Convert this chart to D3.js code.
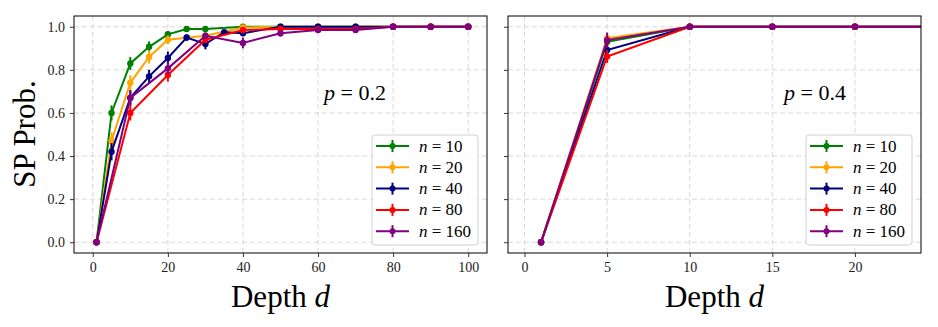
<!DOCTYPE html>
<html>
<head>
<meta charset="utf-8">
<script src="https://cdn.jsdelivr.net/npm/d3@7"></script>
<style>
  body { margin: 0; background: #fff; }
  svg { display: block; }
</style>
</head>
<body>
<div id="container"></div>
<script>
var width = 938;
var height = 327;

// series sizes n, shared by both panels
var nValues = ["10", "20", "40", "80", "160"];
var colors = ["green", "orange", "navy", "red", "purple"];

// ---- left panel (p = 0.2) ----
var leftX10 = [1, 5, 10, 15, 20, 25, 30, 40, 50, 60, 70, 80, 90, 100];
var leftY10 = [0, 0.60, 0.83, 0.907, 0.965, 0.99, 0.99, 1, 1, 1, 1, 1, 1, 1];
var leftE10 = [0, 0.035, 0.03, 0.025, 0.015, 0.008, 0.008, 0, 0, 0, 0, 0, 0, 0];

var leftX20 = [1, 5, 10, 15, 20, 30, 40, 50, 60, 70, 80, 90, 100];
var leftY20 = [0, 0.47, 0.74, 0.86, 0.94, 0.958, 0.997, 1, 1, 1, 1, 1, 1];
var leftE20 = [0, 0.04, 0.035, 0.03, 0.02, 0.015, 0.008, 0, 0, 0, 0, 0, 0];

var leftX40 = [1, 5, 10, 15, 20, 25, 30, 35, 40, 50, 60, 70, 80, 90, 100];
var leftY40 = [0, 0.42, 0.67, 0.77, 0.855, 0.95, 0.92, 0.975, 0.97, 1, 1, 1, 1, 1, 1];
var leftE40 = [0, 0.04, 0.035, 0.03, 0.03, 0.015, 0.025, 0.01, 0.01, 0, 0, 0, 0, 0, 0];

var leftX80 = [1, 10, 20, 30, 40, 50, 60, 70, 80, 90, 100];
var leftY80 = [0, 0.60, 0.776, 0.94, 0.985, 0.99, 0.99, 0.99, 1, 1, 1];
var leftE80 = [0, 0.035, 0.03, 0.015, 0.008, 0.005, 0.005, 0.005, 0, 0, 0];

var leftX160 = [1, 10, 20, 30, 40, 50, 60, 70, 80, 90, 100];
var leftY160 = [0, 0.67, 0.807, 0.958, 0.925, 0.97, 0.985, 0.985, 1, 1, 1];
var leftE160 = [0, 0.035, 0.03, 0.015, 0.025, 0.015, 0.01, 0.01, 0, 0, 0];

// ---- right panel (p = 0.4) ----
var rightX = [1, 5, 10, 15, 20, 25, 30];
var rightY10 = [0, 0.93, 1, 1, 1, 1, 1];
var rightY20 = [0, 0.947, 1, 1, 1, 1, 1];
var rightY40 = [0, 0.892, 1, 1, 1, 1, 1];
var rightY80 = [0, 0.862, 1, 1, 1, 1, 1];
var rightY160 = [0, 0.938, 1, 1, 1, 1, 1];
var rightE10 = [0, 0.025, 0, 0, 0, 0, 0];
var rightE20 = [0, 0.025, 0, 0, 0, 0, 0];
var rightE40 = [0, 0.03, 0, 0, 0, 0, 0];
var rightE80 = [0, 0.03, 0, 0, 0, 0, 0];
var rightE160 = [0, 0.035, 0, 0, 0, 0, 0];

var yTicks = [0, 0.2, 0.4, 0.6, 0.8, 1.0];
var leftXTicks = [0, 20, 40, 60, 80, 100];
var rightXTicks = [0, 5, 10, 15, 20];

function zipSeries(xs, ys, es) {
    return xs.map(function(x, i) { return {x: x, y: ys[i], e: es[i]}; });
}

var leftSeries = [
    zipSeries(leftX10, leftY10, leftE10),
    zipSeries(leftX20, leftY20, leftE20),
    zipSeries(leftX40, leftY40, leftE40),
    zipSeries(leftX80, leftY80, leftE80),
    zipSeries(leftX160, leftY160, leftE160)
];
var rightSeries = [
    zipSeries(rightX, rightY10, rightE10),
    zipSeries(rightX, rightY20, rightE20),
    zipSeries(rightX, rightY40, rightE40),
    zipSeries(rightX, rightY80, rightE80),
    zipSeries(rightX, rightY160, rightE160)
];

var serif = "'Liberation Serif', 'DejaVu Serif', serif";
var plotTop = 16, plotBottom = 253;

var svg = d3.select("#container")
    .append("svg")
    .attr("width", width)
    .attr("height", height);

var yScale = d3.scaleLinear()
    .domain([-0.05, 1.05])
    .range([plotBottom, plotTop]);

function drawPanel(id, left, right, xDomain, xTicks, series, showYLabels, pText, pX) {
    var xScale = d3.scaleLinear().domain(xDomain).range([left, right]);
    var g = svg.append("g");

    g.append("clipPath").attr("id", id)
        .append("rect")
        .attr("x", left).attr("y", plotTop)
        .attr("width", right - left).attr("height", plotBottom - plotTop);

    // grid
    g.selectAll(".vgrid").data(xTicks).enter().append("line")
        .attr("x1", function(d) { return xScale(d); })
        .attr("x2", function(d) { return xScale(d); })
        .attr("y1", plotTop).attr("y2", plotBottom)
        .attr("stroke", "#d8d8d8").attr("stroke-width", 1)
        .attr("stroke-dasharray", "5,3");
    g.selectAll(".hgrid").data(yTicks).enter().append("line")
        .attr("y1", function(d) { return yScale(d); })
        .attr("y2", function(d) { return yScale(d); })
        .attr("x1", left).attr("x2", right)
        .attr("stroke", "#d8d8d8").attr("stroke-width", 1)
        .attr("stroke-dasharray", "5,3");

    // series
    var plot = g.append("g").attr("clip-path", "url(#" + id + ")");
    var line = d3.line()
        .x(function(d) { return xScale(d.x); })
        .y(function(d) { return yScale(d.y); });

    series.forEach(function(s, i) {
        var sg = plot.append("g");
        sg.append("path")
            .datum(s)
            .attr("d", line)
            .attr("fill", "none")
            .attr("stroke", colors[i])
            .attr("stroke-width", 2);
        sg.selectAll(".err").data(s.filter(function(d) { return d.e > 0; })).enter().append("line")
            .attr("x1", function(d) { return xScale(d.x); })
            .attr("x2", function(d) { return xScale(d.x); })
            .attr("y1", function(d) { return yScale(Math.min(d.y + d.e, 1.0)); })
            .attr("y2", function(d) { return yScale(d.y - d.e); })
            .attr("stroke", colors[i])
            .attr("stroke-width", 2);
        sg.selectAll("circle").data(s).enter().append("circle")
            .attr("cx", function(d) { return xScale(d.x); })
            .attr("cy", function(d) { return yScale(d.y); })
            .attr("r", 3.2)
            .attr("fill", colors[i]);
    });

    // frame
    g.append("rect")
        .attr("x", left).attr("y", plotTop)
        .attr("width", right - left).attr("height", plotBottom - plotTop)
        .attr("fill", "none").attr("stroke", "#000").attr("stroke-width", 1);

    // axes
    var xAxis = d3.axisBottom(xScale).tickValues(xTicks).tickSize(4).tickPadding(5)
        .tickFormat(d3.format("d"));
    var xg = g.append("g")
        .attr("transform", "translate(0," + plotBottom + ")")
        .call(xAxis);
    xg.select(".domain").remove();

    var yAxis = d3.axisLeft(yScale).tickValues(yTicks).tickSize(4).tickPadding(5)
        .tickFormat(showYLabels ? d3.format(".1f") : "");
    var yg = g.append("g")
        .attr("transform", "translate(" + left + ",0)")
        .call(yAxis);
    yg.select(".domain").remove();

    [xg, yg].forEach(function(a) {
        a.selectAll("line").attr("stroke", "#333").attr("stroke-width", 1);
        a.selectAll("text")
            .attr("font-family", serif)
            .attr("font-size", "14px")
            .attr("fill", "#222");
    });

    // x label
    var xl = g.append("text")
        .attr("x", (left + right) / 2)
        .attr("y", 307)
        .attr("text-anchor", "middle")
        .attr("font-family", serif)
        .attr("font-size", "31px");
    xl.append("tspan").text("Depth ");
    xl.append("tspan").attr("font-style", "italic").text("d");

    // p annotation
    var pt = g.append("text")
        .attr("x", pX)
        .attr("y", 100)
        .attr("text-anchor", "middle")
        .attr("font-family", serif)
        .attr("font-size", "22px");
    pt.append("tspan").attr("font-style", "italic").text("p");
    pt.append("tspan").text(" = " + pText);

    // legend
    var lx = right - 115, ly = 135;
    var leg = g.append("g");
    leg.append("rect")
        .attr("x", lx).attr("y", ly)
        .attr("width", 106).attr("height", 110)
        .attr("rx", 3)
        .attr("fill", "#fff").attr("fill-opacity", 0.85)
        .attr("stroke", "#d0d0d0").attr("stroke-width", 1);
    nValues.forEach(function(n, i) {
        var cy = ly + 11 + i * 21.3;
        leg.append("line")
            .attr("x1", lx + 4).attr("x2", lx + 37)
            .attr("y1", cy).attr("y2", cy)
            .attr("stroke", colors[i]).attr("stroke-width", 2);
        leg.append("line")
            .attr("x1", lx + 20.5).attr("x2", lx + 20.5)
            .attr("y1", cy - 6).attr("y2", cy + 6)
            .attr("stroke", colors[i]).attr("stroke-width", 2);
        leg.append("circle")
            .attr("cx", lx + 20.5).attr("cy", cy).attr("r", 3)
            .attr("fill", colors[i]);
        var t = leg.append("text")
            .attr("x", lx + 47).attr("y", cy + 5.5)
            .attr("font-family", serif)
            .attr("font-size", "17px");
        t.append("tspan").attr("font-style", "italic").text("n");
        t.append("tspan").text(" = " + n);
    });
}

drawPanel("clipL", 74, 487, [-5, 105], leftXTicks, leftSeries, true, "0.2", 355);
drawPanel("clipR", 508, 921, [-1, 24], rightXTicks, rightSeries, false, "0.4", 815);

// y label
svg.append("text")
    .attr("transform", "translate(35,134) rotate(-90)")
    .attr("text-anchor", "middle")
    .attr("font-family", serif)
    .attr("font-size", "31px")
    .text("SP Prob.");
</script>
</body>
</html>
